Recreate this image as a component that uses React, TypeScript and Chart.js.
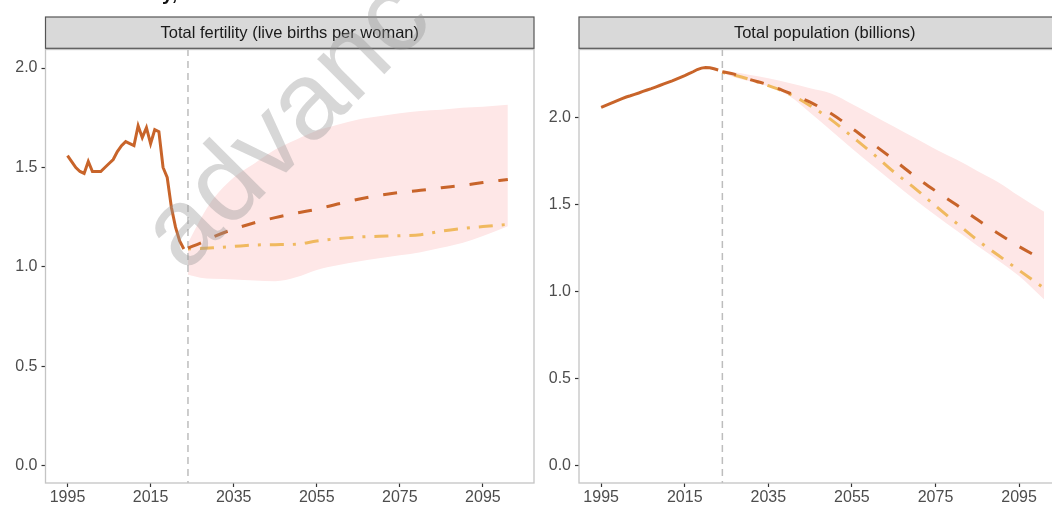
import React, { useEffect, useRef } from "react";
import { Chart, registerables } from "chart.js";

Chart.register(...registerables);

// ---------- data ----------
const histYears = [1995, 1996, 1997, 1998, 1999, 2000, 2001, 2002, 2003, 2004, 2005, 2006, 2007, 2008, 2009, 2010, 2011, 2012, 2013, 2014, 2015, 2016, 2017, 2018, 2019, 2020, 2021, 2022, 2023];
const fertHist = [1.56, 1.53, 1.5, 1.48, 1.47, 1.53, 1.48, 1.48, 1.48, 1.5, 1.52, 1.54, 1.58, 1.61, 1.63, 1.62, 1.61, 1.71, 1.65, 1.7, 1.62, 1.69, 1.68, 1.5, 1.45, 1.3, 1.2, 1.13, 1.09];
const popHist = [2.06, 2.07, 2.08, 2.09, 2.1, 2.11, 2.12, 2.127, 2.135, 2.143, 2.152, 2.16, 2.168, 2.177, 2.186, 2.195, 2.204, 2.213, 2.223, 2.233, 2.243, 2.254, 2.265, 2.278, 2.286, 2.29, 2.288, 2.282, 2.275];

const projYears = [2024, 2027, 2030, 2035, 2040, 2045, 2050, 2055, 2060, 2065, 2070, 2075, 2080, 2085, 2090, 2095, 2101];
const fertMedian = [1.095, 1.12, 1.15, 1.19, 1.222, 1.248, 1.27, 1.29, 1.316, 1.34, 1.36, 1.375, 1.385, 1.398, 1.41, 1.424, 1.44];
const fertLowVariant = [1.09, 1.093, 1.096, 1.103, 1.11, 1.112, 1.114, 1.13, 1.142, 1.15, 1.154, 1.157, 1.162, 1.18, 1.193, 1.203, 1.214];
const fertUpper = [1.12, 1.24, 1.34, 1.45, 1.52, 1.59, 1.64, 1.685, 1.715, 1.742, 1.758, 1.773, 1.784, 1.79, 1.8, 1.805, 1.815];
const fertLower = [0.96, 0.946, 0.94, 0.937, 0.932, 0.928, 0.948, 0.985, 1.008, 1.027, 1.043, 1.058, 1.074, 1.096, 1.12, 1.155, 1.205];

const popMedian = [2.265, 2.25, 2.225, 2.19, 2.143, 2.09, 2.025, 1.94, 1.85, 1.76, 1.665, 1.58, 1.5, 1.415, 1.335, 1.26, 1.18];
const popLowVariant = [2.262, 2.245, 2.225, 2.185, 2.138, 2.07, 1.99, 1.893, 1.795, 1.69, 1.596, 1.494, 1.395, 1.297, 1.21, 1.123, 1.02];
const popUpper = [2.27, 2.262, 2.25, 2.228, 2.2, 2.17, 2.14, 2.08, 2.015, 1.95, 1.885, 1.82, 1.76, 1.695, 1.63, 1.55, 1.46];
const popLower = [2.258, 2.232, 2.213, 2.18, 2.125, 2.03, 1.928, 1.824, 1.725, 1.627, 1.53, 1.44, 1.352, 1.265, 1.18, 1.09, 0.955];

const xTicks = [1995, 2015, 2035, 2055, 2075, 2095];
const yTicks = [0, 0.5, 1, 1.5, 2];
const projectionStart = 2024;

const leftTitle = "Total fertility (live births per woman)";
const rightTitle = "Total population (billions)";

// ---------- styles ----------
const ORANGE = "#C8642A";
const YELLOW = "#F0B95F";
const BAND = "#FEE7E7";
const FONT = "'Liberation Sans', Arial, sans-serif";

const pts = (xs: number[], ys: number[]) => xs.map((x, i) => ({ x, y: ys[i] }));

function makeConfig(opts: {
  title: string;
  hist: number[];
  median: number[];
  low: number[];
  upper: number[];
  lower: number[];
  yMin: number;
  yMax: number;
  yWidth: number;
  padRight: number;
}): any {
  const panelPlugin = {
    id: "panelDecor",
    beforeDatasetsDraw(chart: any) {
      const { ctx, chartArea, scales } = chart;
      const x = scales.x.getPixelForValue(projectionStart);
      ctx.save();
      ctx.strokeStyle = "#bdbdbd";
      ctx.lineWidth = 1.5;
      ctx.setLineDash([7, 5]);
      ctx.beginPath();
      ctx.moveTo(x, chartArea.top);
      ctx.lineTo(x, chartArea.bottom);
      ctx.stroke();
      ctx.restore();
    },
    afterDraw(chart: any) {
      const { ctx, chartArea } = chart;
      ctx.save();
      ctx.strokeStyle = "#c4c4c4";
      ctx.lineWidth = 1.3;
      ctx.strokeRect(chartArea.left, chartArea.top + 0.5, chartArea.right - chartArea.left, chartArea.bottom - chartArea.top - 0.5);
      const top = 17;
      const h = 31.3;
      ctx.fillStyle = "#d9d9d9";
      ctx.fillRect(chartArea.left, top, chartArea.right - chartArea.left, h);
      ctx.strokeStyle = "#555555";
      ctx.lineWidth = 1.2;
      ctx.strokeRect(chartArea.left, top, chartArea.right - chartArea.left, h);
      ctx.fillStyle = "#1a1a1a";
      ctx.font = `16.5px ${FONT}`;
      ctx.textAlign = "center";
      ctx.textBaseline = "middle";
      ctx.fillText(opts.title, (chartArea.left + chartArea.right) / 2, top + h / 2 + 0.5);
      ctx.restore();
    },
  };

  const tickFont = { family: FONT, size: 16 };
  return {
    type: "line",
    data: {
      datasets: [
        {
          data: pts(histYears, opts.hist),
          borderColor: ORANGE,
          borderWidth: 3,
          pointRadius: 0,
          tension: 0,
          fill: false,
        },
        {
          data: pts(projYears, opts.median),
          borderColor: ORANGE,
          borderWidth: 3,
          borderDash: [14, 15],
          pointRadius: 0,
          cubicInterpolationMode: "monotone",
          fill: false,
        },
        {
          data: pts(projYears, opts.low),
          borderColor: YELLOW,
          borderWidth: 3,
          borderDash: [3, 9, 14, 9],
          pointRadius: 0,
          cubicInterpolationMode: "monotone",
          fill: false,
        },
        {
          data: pts(projYears, opts.lower),
          borderWidth: 0,
          borderColor: "rgba(0,0,0,0)",
          pointRadius: 0,
          cubicInterpolationMode: "monotone",
          fill: false,
        },
        {
          data: pts(projYears, opts.upper),
          borderWidth: 0,
          borderColor: "rgba(0,0,0,0)",
          backgroundColor: BAND,
          pointRadius: 0,
          cubicInterpolationMode: "monotone",
          fill: "-1",
        },
      ],
    },
    options: {
      responsive: false,
      animation: false,
      devicePixelRatio: 1,
      layout: { padding: { left: 0, right: opts.padRight, top: 49, bottom: 0 } },
      plugins: {
        legend: { display: false },
        tooltip: { enabled: false },
        filler: { drawTime: "beforeDatasetsDraw" },
      },
      scales: {
        x: {
          type: "linear",
          min: 1989.7,
          max: 2107.3,
          afterBuildTicks: (axis: any) => {
            axis.ticks = xTicks.map((v) => ({ value: v }));
          },
          afterFit: (axis: any) => {
            axis.height = 25;
          },
          ticks: {
            color: "#4d4d4d",
            font: tickFont,
            padding: 1,
            maxRotation: 0,
            autoSkip: false,
            callback: (v: any) => String(v),
          },
          grid: {
            display: true,
            drawOnChartArea: false,
            drawTicks: true,
            tickLength: 4,
            tickColor: "#333333",
            tickWidth: 1.2,
          },
          border: { display: false },
        },
        y: {
          type: "linear",
          min: opts.yMin,
          max: opts.yMax,
          afterBuildTicks: (axis: any) => {
            axis.ticks = yTicks.map((v) => ({ value: v }));
          },
          afterFit: (axis: any) => {
            axis.width = opts.yWidth;
          },
          ticks: {
            color: "#4d4d4d",
            font: tickFont,
            padding: 4,
            autoSkip: false,
            callback: (v: any) => Number(v).toFixed(1),
          },
          grid: {
            display: true,
            drawOnChartArea: false,
            drawTicks: true,
            tickLength: 4,
            tickColor: "#333333",
            tickWidth: 1.2,
          },
          border: { display: false },
        },
      },
    },
    plugins: [panelPlugin],
  };
}

function Panel(props: { left: number; width: number; config: any }) {
  const ref = useRef<HTMLCanvasElement | null>(null);
  useEffect(() => {
    if (!ref.current) return;
    const chart = new Chart(ref.current, props.config);
    return () => chart.destroy();
  }, []);
  return (
    <canvas
      ref={ref}
      width={props.width}
      height={508}
      style={{ position: "absolute", left: props.left, top: 0, width: props.width, height: 508 }}
    />
  );
}

export default function App() {
  const leftCfg = makeConfig({
    title: leftTitle,
    hist: fertHist,
    median: fertMedian,
    low: fertLowVariant,
    upper: fertUpper,
    lower: fertLower,
    yMin: -0.087,
    yMax: 2.096,
    yWidth: 45.5,
    padRight: 6,
  });
  const rightCfg = makeConfig({
    title: rightTitle,
    hist: popHist,
    median: popMedian,
    low: popLowVariant,
    upper: popUpper,
    lower: popLower,
    yMin: -0.1,
    yMax: 2.396,
    yWidth: 39,
    padRight: 4.5,
  });
  return (
    <div
      style={{
        position: "fixed",
        left: 0,
        top: 0,
        width: 1052,
        height: 508,
        overflow: "hidden",
        background: "#ffffff",
      }}
    >
      <Panel left={0} width={540} config={leftCfg} />
      <Panel left={540} width={535} config={rightCfg} />
      <div
        style={{
          position: "absolute",
          left: 162,
          top: -17,
          font: `bold 20px ${FONT}`,
          lineHeight: "20px",
          color: "#111",
          whiteSpace: "nowrap",
        }}
      >
        y,
      </div>
      <div
        style={{
          position: "absolute",
          left: 283,
          top: 122,
          transform: "translate(-50%, -50%) rotate(-45deg)",
          font: `110px ${FONT}`,
          lineHeight: "110px",
          color: "rgba(150,150,150,0.38)",
          whiteSpace: "nowrap",
          pointerEvents: "none",
        }}
      >
        advanc
      </div>
    </div>
  );
}
